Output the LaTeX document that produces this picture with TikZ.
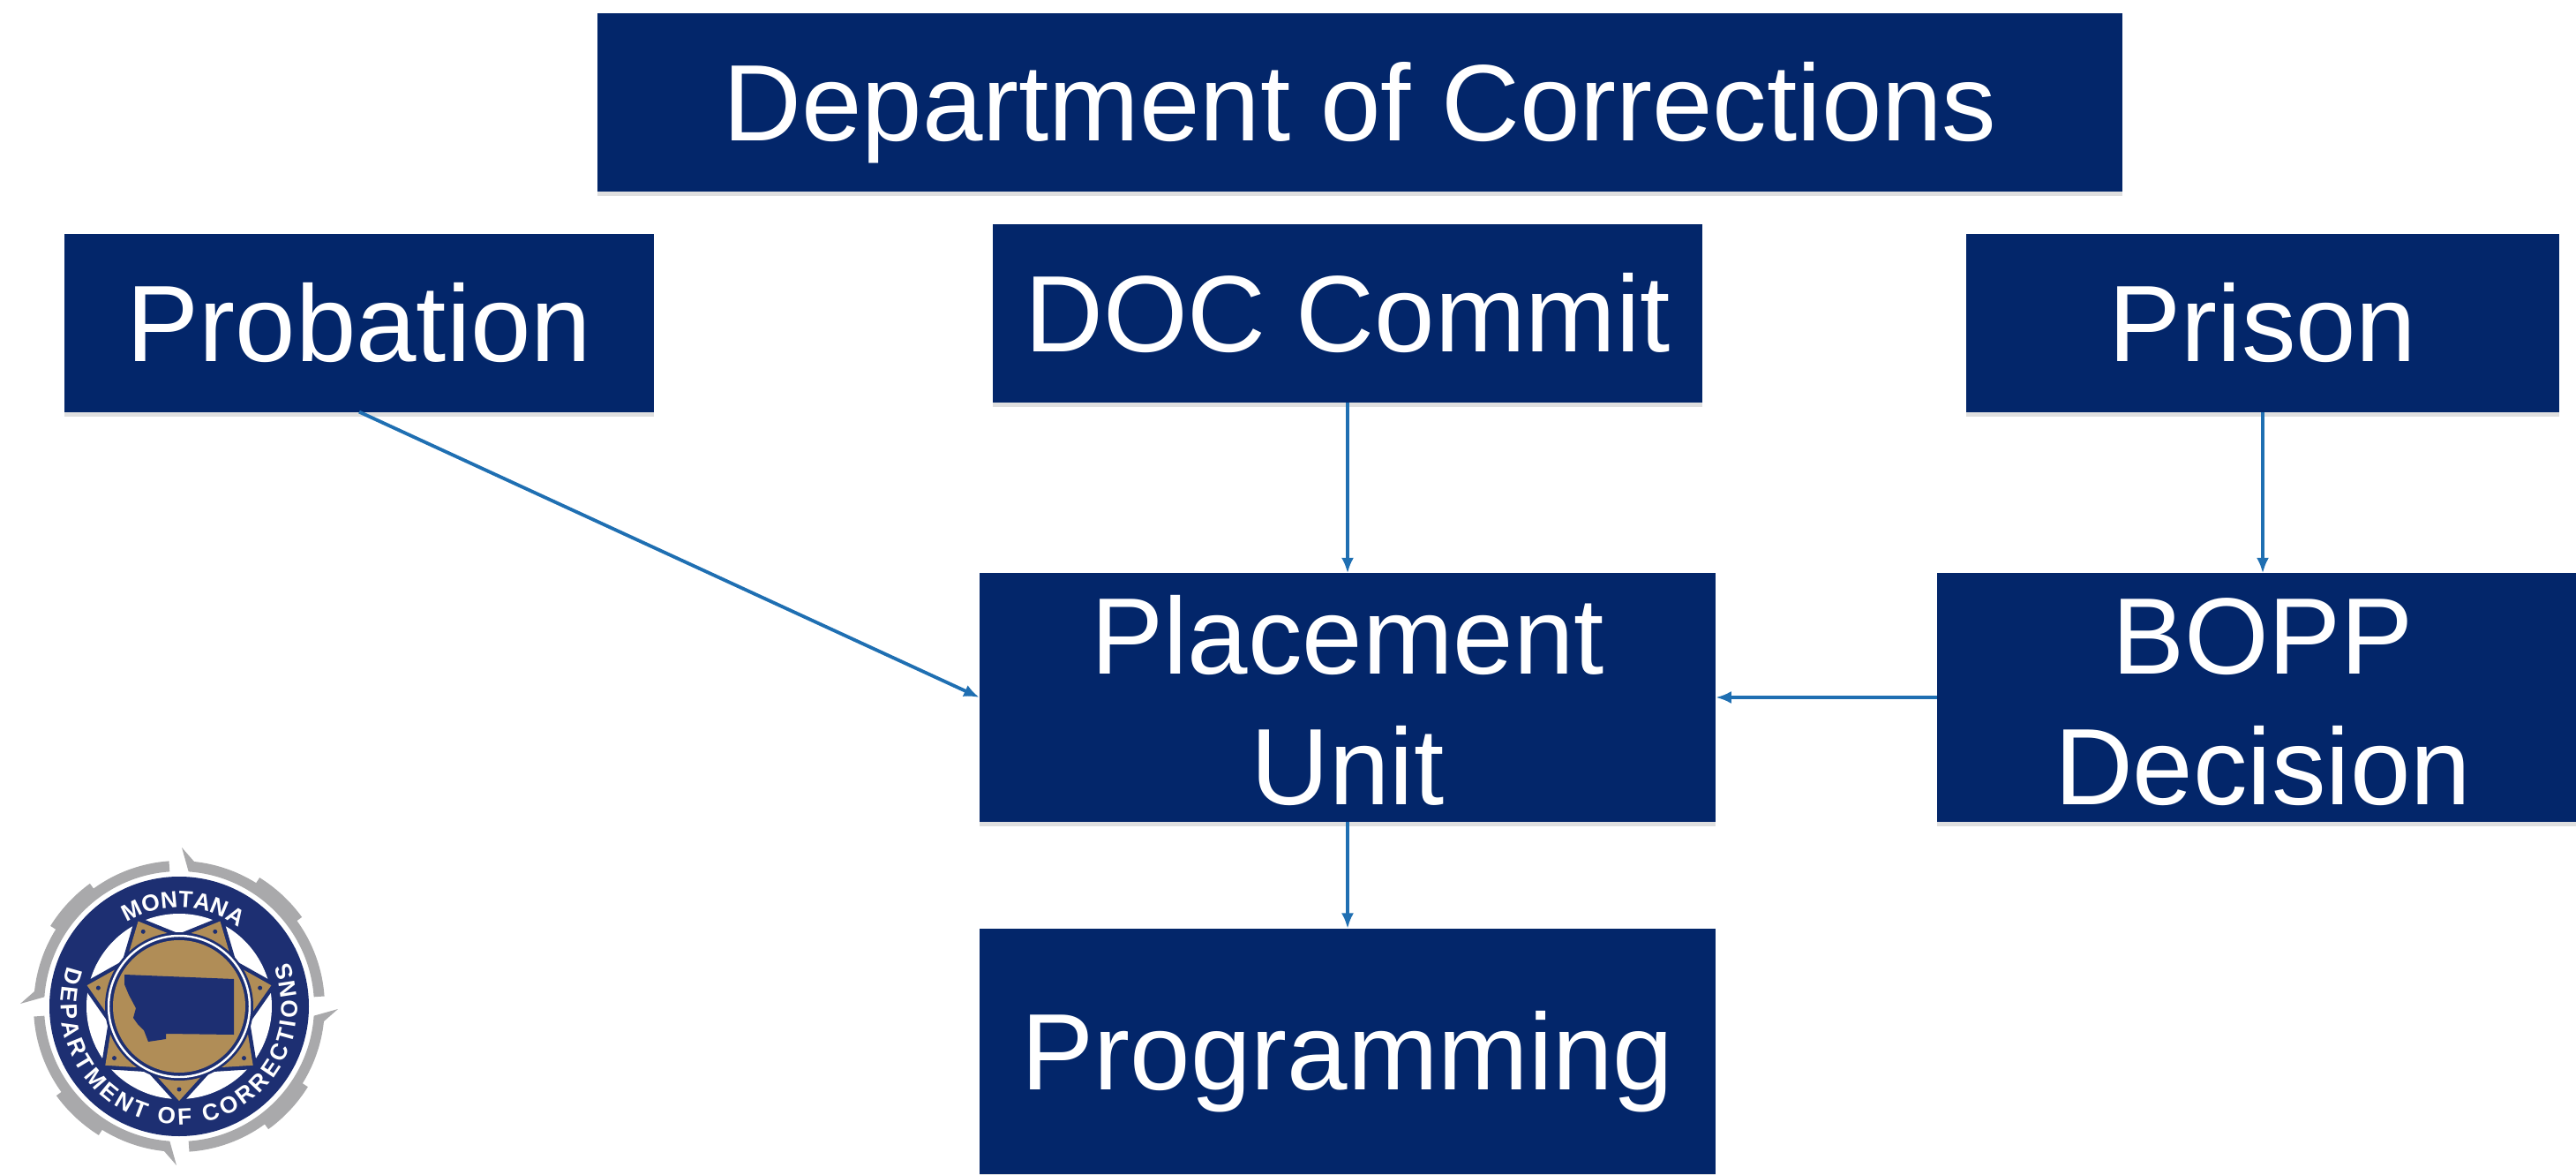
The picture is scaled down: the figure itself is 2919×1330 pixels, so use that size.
\documentclass[tikz,border=0pt]{standalone}
\usepackage{fontspec}
\setmainfont{Liberation Sans}
\usetikzlibrary{arrows.meta}
\usetikzlibrary{shapes.geometric}
\usetikzlibrary{decorations.text}
\usetikzlibrary{shadows}
\definecolor{docnavy}{HTML}{03266A}
\definecolor{sealnavy}{HTML}{1D2F72}
\definecolor{sealgold}{HTML}{B08D57}
\definecolor{sealgray}{HTML}{A9A9AB}
\definecolor{linkblue}{HTML}{1F6FB2}
\tikzset{
  box/.style={fill=docnavy, text=white, inner sep=0pt, outer sep=0pt, align=center, text height=25pt, text depth=0pt,
    font=\fontsize{35}{42}\selectfont,
    drop shadow={shadow xshift=0pt, shadow yshift=-1.5pt, opacity=.25}},
  twolines/.style={text height=69pt},
  badge/.style={star, star points=7, star point ratio=1.38, minimum size=2.14cm, inner sep=0pt, outer sep=0pt, shape border rotate=180},
  link/.style={linkblue, line width=1.1pt, -{Latex[length=5pt,width=4pt]}}
}
\begin{document}
\begin{tikzpicture} [x=.01cm, y=.01cm]

\useasboundingbox (0,0) rectangle (2919,1330);

\node[box, minimum width=17.27cm, minimum height=2.01cm] (doc) at (1541,1214) {Department of Corrections};
\node[box, minimum width=6.68cm, minimum height=2.01cm] (probation) at (407,964) {Probation};
\node[box, minimum width=8.04cm, minimum height=2.01cm] (commit) at (1527,975) {DOC Commit};
\node[box, minimum width=6.71cm, minimum height=2.01cm] (prison) at (2564,964) {Prison};
\node[box, twolines, minimum width=8.34cm, minimum height=2.81cm] (placement) at (1527,540) {Placement\\Unit};
\node[box, twolines, minimum width=7.38cm, minimum height=2.81cm] (bopp) at (2564,540) {BOPP\\Decision};
\node[box, minimum width=8.34cm, minimum height=2.78cm] (programming) at (1527,139) {Programming};

\draw[link] (probation.south) -- (placement.west);
\draw[link] (commit.south) -- (placement.north);
\draw[link] (prison.south) -- (bopp.north);
\draw[link] (bopp.west) -- (placement.east);
\draw[link] (placement.south) -- (programming.north);

% seal
\begin{scope}[shift={(203,190)}]
\foreach \a in {0,-90,-180,-270}
 \fill[sealgray, rotate=\a] (3,180) -- (17,164) arc[start angle=84, end angle=58, radius=165] -- (58:172) arc[start angle=58, end angle=36, radius=172] -- (36:165) arc[start angle=36, end angle=4, radius=165] -- (4:153) arc[start angle=4, end angle=86, radius=153] -- cycle;
\fill[white] (0,0) circle[radius=151];
\fill[sealnavy] (0,0) circle[radius=147];
\fill[white] (0,0) circle[radius=105];
\node[badge, draw=sealnavy, line width=2.5pt] (starback) at (0,0) {};
\node[badge, fill=sealgold] (star) at (0,0) {};
\foreach \k in {0,...,6}
 \fill[sealnavy] (-90+\k*360/7:94) circle[radius=2.5];
\fill[sealnavy] (0,0) circle[radius=84];
\draw[white, line width=.7pt] (0,0) circle[radius=80];
\fill[sealgold] (0,0) circle[radius=75];
\fill[sealnavy] (-62,36) -- (62,31) -- (62,-32) -- (-15,-31) -- (-15,-37) -- (-35,-40) -- (-40,-27) -- (-47,-20) -- (-52,-13) -- (-49,-2) -- (-57,13) -- (-62,25) -- cycle;
\path[postaction={decorate}, decoration={text along path, text align={fit to path}, text={|\fontsize{7.5}{9}\selectfont\bfseries\color{white}|MONTANA}}]
  (122:112) arc[start angle=122, end angle=56, radius=112];
\path[postaction={decorate}, decoration={text along path, text align={fit to path}, text={|\fontsize{7.5}{9}\selectfont\bfseries\color{white}|DEPARTMENT OF CORRECTIONS}}]
  (160:134) arc[start angle=160, end angle=382, radius=134];
\end{scope}

\end{tikzpicture}
\end{document}
